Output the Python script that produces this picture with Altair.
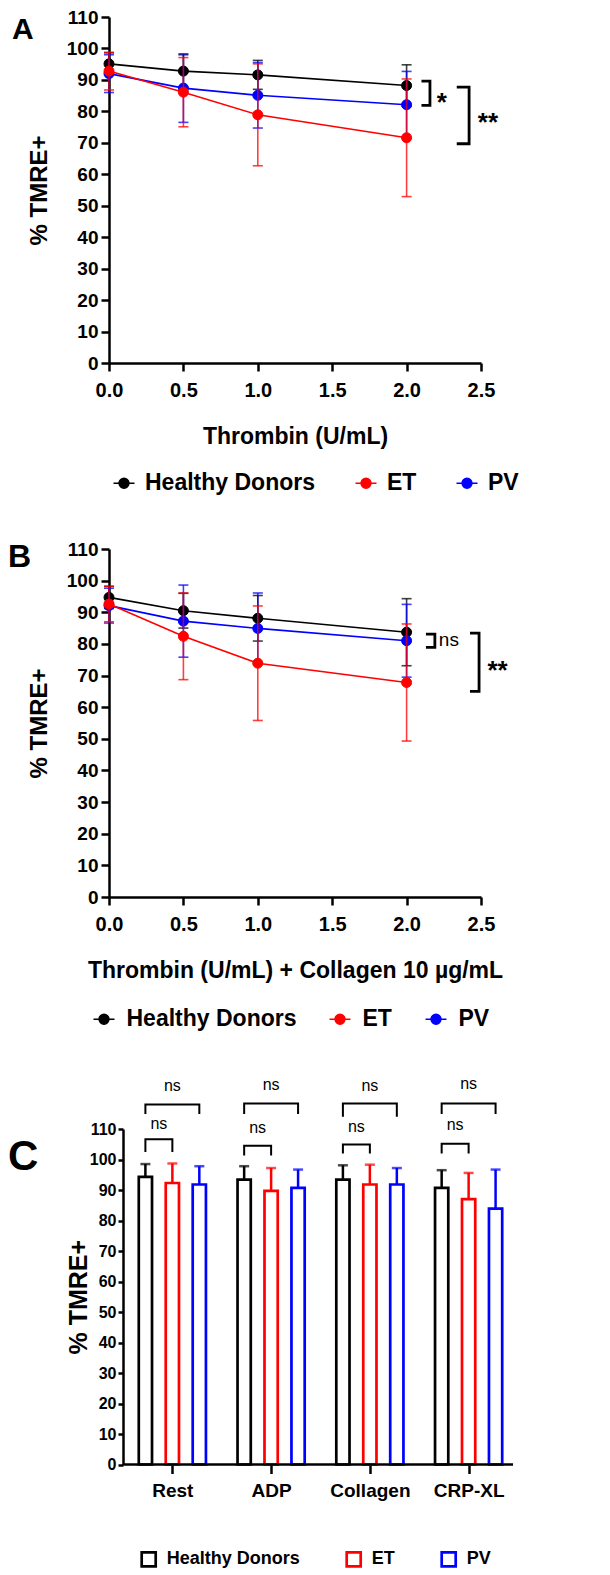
import altair as alt
import pandas as pd

FONT = "Liberation Sans"
GROUPS = ["Healthy Donors", "ET", "PV"]
COLORS = ["#000000", "#ff0000", "#0000ff"]
LAYER_ORDER = ["Healthy Donors", "PV", "ET"]

# ---------------- Panel A: Thrombin ----------------
dose = [0.0, 0.5, 1.0, 2.0]
a_hd_mean = [95.1, 92.8, 91.6, 88.2]
a_hd_sd = [3.5, 5.2, 4.6, 6.6]
a_et_mean = [92.8, 86.1, 78.9, 71.6]
a_et_sd = [6.0, 11.0, 16.2, 18.7]
a_pv_mean = [92.0, 87.4, 85.1, 82.1]
a_pv_sd = [6.0, 10.9, 10.4, 10.6]

# ---------------- Panel B: Thrombin + Collagen ----------------
b_hd_mean = [94.7, 90.5, 88.1, 83.7]
b_hd_sd = [3.5, 5.5, 7.2, 10.6]
b_et_mean = [92.6, 82.4, 73.9, 67.8]
b_et_sd = [5.6, 13.7, 18.1, 18.5]
b_pv_mean = [92.1, 87.2, 84.9, 81.0]
b_pv_sd = [5.5, 11.4, 11.2, 11.5]

# ---------------- Panel C: agonists ----------------
stimuli = ["Rest", "ADP", "Collagen", "CRP-XL"]
c_hd_mean = [94.3, 93.4, 93.4, 90.7]
c_hd_sd = [4.2, 4.4, 4.7, 5.8]
c_et_mean = [92.3, 89.7, 91.8, 87.0]
c_et_sd = [6.4, 7.5, 6.5, 8.6]
c_pv_mean = [91.8, 90.7, 91.8, 83.9]
c_pv_sd = [6.0, 6.0, 5.4, 12.8]

# ---------------- Significance annotations ----------------
a_br_x0 = [2.10, 2.337]
a_br_x1 = [2.157, 2.42]
a_br_top = [89.6, 87.7]
a_br_bot = [81.9, 69.7]
a_sig_text = ["*", "**"]
a_sig_x = [2.236, 2.547]
a_sig_y = [84.5, 78.2]

b_br_x0 = [2.13, 2.426]
b_br_x1 = [2.19, 2.487]
b_br_top = [83.1, 83.4]
b_br_bot = [78.9, 65.0]
b_sig_text = ["ns", "**"]
b_sig_x = [2.284, 2.611]
b_sig_y = [81.2, 73.3]

c_short_top = [106.6, 104.5, 104.9, 105.2]
c_short_leg = [102.5, 101.3, 102.0, 102.0]
c_long_top = [118.0, 118.4, 118.4, 118.4]
c_long_leg = [114.9, 114.9, 114.0, 114.9]
c_short_ns_y = [111.8, 110.2, 110.7, 111.2]
c_long_ns_y = [124.0, 124.4, 124.0, 124.7]
c_offsets = {"Healthy Donors": -0.273, "ET": 0.0, "PV": 0.273}
c_half_width = 0.067

LEG_PATH = ("M-1,0L-0.47,0M0.47,0L1,0M-0.47,0A0.47,0.47 0 1,0 0.47,0"
            "A0.47,0.47 0 1,0 -0.47,0Z")


def long_df(xs, means, sds):
    rows = []
    for g in GROUPS:
        for x, m, s in zip(xs, means[g], sds[g]):
            rows.append({"x": x, "grp": g, "mean": m, "lo": m - s, "hi": m + s})
    return pd.DataFrame(rows)


def bracket_df(x0s, x1s, tops, bots):
    rows = []
    for k, (x0, x1, t, b) in enumerate(zip(x0s, x1s, tops, bots)):
        pts = [(x0, t), (x1, t), (x1, b), (x0, b)]
        for o, (xx, yy) in enumerate(pts):
            rows.append({"id": k, "ord": o, "x": xx, "y": yy})
    return pd.DataFrame(rows)


def line_panel(df, xtitle, height, br, sig, label, label_xy, label_size,
               leg_xy, leg_colpad, leg_laboff):
    sc = alt.Scale(domain=GROUPS, range=COLORS)
    xs = alt.Scale(domain=[0, 2.5], nice=False, zero=False)
    ys = alt.Scale(domain=[0, 110], nice=False)
    xax = alt.Axis(values=[0, 0.5, 1.0, 1.5, 2.0, 2.5], format=".1f", title=xtitle,
                   labelFont=FONT, labelFontWeight="bold", labelFontSize=20,
                   labelColor="black", labelPadding=9, tickSize=8, tickWidth=2.5,
                   tickColor="black", domainColor="black", domainWidth=2.5,
                   titleFont=FONT, titleFontWeight="bold", titleFontSize=23,
                   titleColor="black", titlePadding=25, grid=False, labelFlush=False,
                   labelOverlap=False)
    yax = alt.Axis(values=list(range(0, 111, 10)), title="% TMRE+",
                   labelFont=FONT, labelFontWeight="bold", labelFontSize=19,
                   labelColor="black", labelPadding=3, tickSize=8, tickWidth=2.5,
                   tickColor="black", domainColor="black", domainWidth=2.5,
                   titleFont=FONT, titleFontWeight="bold", titleFontSize=24,
                   titleColor="black", titlePadding=15, grid=False, labelFlush=False,
                   labelOverlap=False)
    leg = alt.Legend(orient="none", legendX=leg_xy[0], legendY=leg_xy[1],
                     direction="horizontal", title=None, symbolType=LEG_PATH,
                     symbolSize=441, symbolStrokeWidth=1.5, labelFont=FONT,
                     labelFontWeight="bold", labelFontSize=23, labelColor="black",
                     labelLimit=500, columnPadding=leg_colpad, labelOffset=leg_laboff,
                     padding=0)

    def X(f):
        return alt.X(f, type="quantitative", scale=xs, axis=xax)

    def Y(f):
        return alt.Y(f, type="quantitative", scale=ys, axis=yax)

    layers = []
    for g in LAYER_ORDER:
        col = COLORS[GROUPS.index(g)]
        base = alt.Chart(df[df["grp"] == g])
        layers.append(base.mark_line(color=col, strokeWidth=1.6).encode(x=X("x"), y=Y("mean")))
        layers.append(base.mark_rule(color=col, strokeWidth=1.6, opacity=0.75).encode(
            x=X("x"), y=Y("lo"), y2="hi"))
        for f in ["lo", "hi"]:
            layers.append(base.mark_tick(color=col, orient="horizontal", size=10,
                                         thickness=1.6, opacity=0.75).encode(x=X("x"), y=Y(f)))
        layers.append(base.mark_point(filled=True, size=100, opacity=1, strokeWidth=1).encode(
            x=X("x"), y=Y("mean"),
            fill=alt.Fill("grp:N", scale=sc, legend=leg),
            stroke=alt.Stroke("grp:N", scale=sc, legend=leg)))

    bdf = bracket_df(*br)
    layers.append(alt.Chart(bdf).mark_line(color="black", strokeWidth=2.8).encode(
        x=X("x"), y=Y("y"), detail="id:N", order="ord:Q"))

    sdf = pd.DataFrame({"t": sig[0], "x": sig[1], "y": sig[2]})
    stars = sdf[sdf["t"] != "ns"]
    nss = sdf[sdf["t"] == "ns"]
    if len(stars):
        layers.append(alt.Chart(stars).mark_text(font=FONT, fontWeight="bold", fontSize=26,
                                                 dy=5.5, color="black").encode(
            x=X("x"), y=Y("y"), text="t:N"))
    if len(nss):
        layers.append(alt.Chart(nss).mark_text(font=FONT, fontSize=19, color="black").encode(
            x=X("x"), y=Y("y"), text="t:N"))

    ldf = pd.DataFrame({"t": [label]})
    layers.append(alt.Chart(ldf).mark_text(font=FONT, fontWeight="bold", fontSize=label_size,
                                           align="left", baseline="middle",
                                           color="black").encode(
        x=alt.value(label_xy[0]), y=alt.value(label_xy[1]), text="t:N"))

    return alt.layer(*layers).properties(width=372, height=height)


dfA = long_df(dose, {"Healthy Donors": a_hd_mean, "ET": a_et_mean, "PV": a_pv_mean},
              {"Healthy Donors": a_hd_sd, "ET": a_et_sd, "PV": a_pv_sd})
dfB = long_df(dose, {"Healthy Donors": b_hd_mean, "ET": b_et_mean, "PV": b_pv_mean},
              {"Healthy Donors": b_hd_sd, "ET": b_et_sd, "PV": b_pv_sd})

chartA = line_panel(dfA, "Thrombin (U/mL)", 346,
                    (a_br_x0, a_br_x1, a_br_top, a_br_bot),
                    (a_sig_text, a_sig_x, a_sig_y), "A", (-97, 12.5), 30,
                    (3.5, 454.5), 37, 9.5)
chartB = line_panel(dfB, "Thrombin (U/mL) + Collagen 10 µg/mL", 348,
                    (b_br_x0, b_br_x1, b_br_top, b_br_bot),
                    (b_sig_text, b_sig_x, b_sig_y), "B", (-101, 8), 32,
                    (-16.5, 458.5), 30, 11)

# ---------------- Panel C ----------------
c_means = {"Healthy Donors": c_hd_mean, "ET": c_et_mean, "PV": c_pv_mean}
c_sds = {"Healthy Donors": c_hd_sd, "ET": c_et_sd, "PV": c_pv_sd}
rowsC = []
for i, s in enumerate(stimuli):
    for g in GROUPS:
        c = i + 0.5 + c_offsets[g]
        m = c_means[g][i]
        rowsC.append({"stim": s, "grp": g, "xc": c, "x0": c - c_half_width,
                      "x1": c + c_half_width, "zero": 0.0, "mean": m,
                      "top": m + c_sds[g][i]})
dfC = pd.DataFrame(rowsC)

xsC = alt.Scale(domain=[-0.1416, 4], nice=False, zero=False)
ysC = alt.Scale(domain=[0, 110], nice=False)
label_js = "[" + ",".join("'" + s + "'" for s in stimuli) + "][floor(datum.value)]"
xaxC = alt.Axis(values=[0.5, 1.5, 2.5, 3.5], labelExpr=label_js, title=None, domain=False,
                labelFont=FONT, labelFontWeight="bold", labelFontSize=19,
                labelColor="black", labelPadding=8, tickSize=9, tickWidth=2.5,
                tickColor="black", grid=False, labelOverlap=False)
yaxC = alt.Axis(values=list(range(0, 111, 10)), title="% TMRE+", offset=-14,
                labelFont=FONT, labelFontWeight="bold", labelFontSize=16,
                labelColor="black", labelPadding=2, tickSize=5, tickWidth=2.5,
                tickColor="black", domainColor="black", domainWidth=2.5,
                titleFont=FONT, titleFontWeight="bold", titleFontSize=25,
                titleColor="black", titlePadding=-2, grid=False, labelFlush=False,
                labelOverlap=False)


def XC(f):
    return alt.X(f, type="quantitative", scale=xsC, axis=xaxC)


def YC(f):
    return alt.Y(f, type="quantitative", scale=ysC, axis=yaxC)


scC = alt.Scale(domain=GROUPS, range=COLORS)
legC = alt.Legend(orient="none", legendX=30.7, legendY=421, direction="horizontal",
                  title=None, symbolType="square", symbolSize=196, symbolStrokeWidth=2.7,
                  symbolFillColor="white", labelFont=FONT, labelFontWeight="bold",
                  labelFontSize=18, labelColor="black", labelLimit=500,
                  columnPadding=40, labelOffset=9, padding=0)

layersC = []
layersC.append(alt.Chart(dfC).mark_rect(fill="white", strokeWidth=2.7).encode(
    x=XC("x0"), x2="x1", y=YC("zero"), y2="mean",
    stroke=alt.Stroke("grp:N", scale=scC, legend=legC)))
for g in GROUPS:
    col = COLORS[GROUPS.index(g)]
    base = alt.Chart(dfC[dfC["grp"] == g])
    layersC.append(base.mark_rule(color=col, strokeWidth=2.5).encode(
        x=XC("xc"), y=YC("mean"), y2="top"))
    layersC.append(base.mark_tick(color=col, orient="horizontal", size=10, thickness=2.5).encode(
        x=XC("xc"), y=YC("top")))

# x-axis baseline (starts at the y axis)
layersC.append(alt.Chart(pd.DataFrame({"a": [0]})).mark_rule(color="black", strokeWidth=2.5).encode(
    x=alt.XDatum(0, type="quantitative", scale=xsC, axis=xaxC),
    x2=alt.X2Datum(3.95),
    y=alt.YDatum(0, type="quantitative", scale=ysC, axis=yaxC)))

# brackets
brows = []
nsrows = []
k = 0
for i in range(len(stimuli)):
    hd = i + 0.5 + c_offsets["Healthy Donors"]
    et = i + 0.5 + c_offsets["ET"]
    pv = i + 0.5 + c_offsets["PV"]
    for (xa, xb, t, lg, ny) in [(hd, et, c_short_top[i], c_short_leg[i], c_short_ns_y[i]),
                                (hd, pv, c_long_top[i], c_long_leg[i], c_long_ns_y[i])]:
        for o, (xx, yy) in enumerate([(xa, lg), (xa, t), (xb, t), (xb, lg)]):
            brows.append({"id": k, "ord": o, "x": xx, "y": yy})
        nsrows.append({"x": (xa + xb) / 2, "y": ny, "t": "ns"})
        k += 1
layersC.append(alt.Chart(pd.DataFrame(brows)).mark_line(color="black", strokeWidth=2).encode(
    x=XC("x"), y=YC("y"), detail="id:N", order="ord:Q"))
layersC.append(alt.Chart(pd.DataFrame(nsrows)).mark_text(font=FONT, fontSize=16, color="black").encode(
    x=XC("x"), y=YC("y"), text="t:N"))
layersC.append(alt.Chart(pd.DataFrame({"t": ["C"]})).mark_text(
    font=FONT, fontWeight="bold", fontSize=42, align="left", baseline="middle",
    color="black").encode(x=alt.value(-101), y=alt.value(28), text="t:N"))

chartC = alt.layer(*layersC).properties(width=409, height=335.5)

chart = alt.vconcat(chartA, chartB, chartC, spacing=44).resolve_scale(
    fill="independent", stroke="independent").properties(
    padding={"left": 0, "top": 0, "right": 0, "bottom": 0},
    background="white").configure_view(strokeWidth=0)

chart.save("out.html", embed_options={"renderer": "svg", "actions": False})
